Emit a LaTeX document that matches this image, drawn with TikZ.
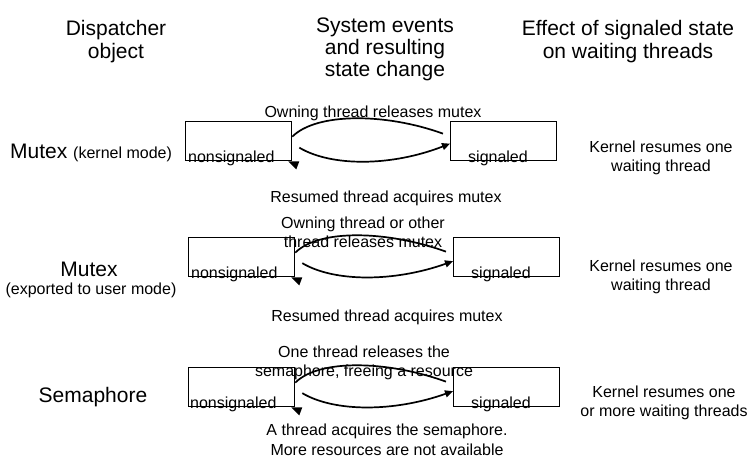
\documentclass[tikz,border=0pt]{standalone}
\usepackage{fontspec}
\setmainfont{Liberation Sans}
\usetikzlibrary{arrows.meta}
\tikzset{
    statebox/.style = {rectangle, draw=black, line width=1.3pt, minimum width=106pt, minimum height=39pt, inner sep=0pt, anchor=north west},
    statename/.style = {font=\fontsize{16}{19}\selectfont, inner sep=0pt, anchor=base west},
    hdr/.style = {align=center, font=\fontsize{21}{23}\selectfont, inner sep=0pt},
    obj/.style = {font=\fontsize{21}{23}\selectfont, inner sep=0pt, anchor=base},
    objnote/.style = {font=\fontsize{16}{19}\selectfont, inner sep=0pt, anchor=base},
    evt/.style = {align=center, font=\fontsize{16}{19.5}\selectfont, inner sep=0pt},
    effect/.style = {align=center, font=\fontsize{16}{19}\selectfont, inner sep=0pt},
    arc/.style = {line width=1.7pt},
    arcarrow/.style = {arc, -{Triangle[length=8pt,width=7pt]}}
}

\begin{document}
\begin{tikzpicture}[x=1pt,y=-1pt]
    \useasboundingbox (0,0) rectangle (749,467);
    % column heads
    \node [hdr] (hobj) at (116,42) {Dispatcher\\object};
    \node [hdr, font=\fontsize{21}{22}\selectfont] (hevt) at (385,49) {System events\\and resulting\\state change};
    \node [hdr] (heff) at (628,42) {Effect of signaled state\\on waiting threads};

    % mutex, kernel mode
    \node [obj, anchor=base west] (obj1) at (10,158) {Mutex {\fontsize{16}{19}\selectfont (kernel mode)}};
    \node [statebox] (ns1) at (185,121) {};
    \node [statebox] (s1) at (450,121) {};
    \node [statename] (ns1t) at ([xshift=3pt,yshift=-1pt]ns1.south west) {nonsignaled};
    \node [statename] (s1t) at ([xshift=18pt,yshift=-1pt]s1.south west) {signaled};
    \draw [arc] ([yshift=4.5pt]ns1.east) .. controls +(24,-24) and +(-58,-21) .. ([xshift=-7pt,yshift=7.5pt]s1.west);
    \draw [arcarrow] ([xshift=7pt,yshift=-6.5pt]ns1.east) .. controls +(32,19) and +(-59,23) .. ([yshift=-2.5pt]s1.west);
    \fill ([xshift=-4pt]ns1.south east) -- ++(11,0) -- ++(-3,8) -- cycle;
    \node [evt, anchor=base] (up1) at (373,117) {Owning thread releases mutex};
    \node [evt, anchor=base] (down1) at (386,202) {Resumed thread acquires mutex};
    \node [effect] (eff1) at (661,158) {Kernel resumes one\\waiting thread};

    % mutex, exported to user mode
    \node [obj] (obj2) at (89,276) {Mutex};
    \node [objnote] (obj2n) at (91,294) {(exported to user mode)};
    \node [statebox] (ns2) at (188,237) {};
    \node [statebox] (s2) at (453,237) {};
    \node [statename] (ns2t) at ([xshift=3pt,yshift=-1pt]ns2.south west) {nonsignaled};
    \node [statename] (s2t) at ([xshift=18pt,yshift=-1pt]s2.south west) {signaled};
    \draw [arc] ([yshift=4.5pt]ns2.east) .. controls +(24,-24) and +(-58,-21) .. ([xshift=-7pt,yshift=5.5pt]s2.west);
    \draw [arcarrow] ([xshift=7pt,yshift=-6pt]ns2.east) .. controls +(32,19) and +(-59,21) .. ([yshift=-4pt]s2.west);
    \fill ([xshift=-4pt]ns2.south east) -- ++(11,0) -- ++(-3,8) -- cycle;
    \node [evt] (up2) at (363,232.5) {Owning thread or other\\thread releases mutex};
    \node [evt, anchor=base] (down2) at (387,321) {Resumed thread acquires mutex};
    \node [effect] (eff2) at (661,276.5) {Kernel resumes one\\waiting thread};

    % semaphore
    \node [obj] (obj3) at (93,402) {Semaphore};
    \node [statebox] (ns3) at (188,367) {};
    \node [statebox] (s3) at (453,367) {};
    \node [statename] (ns3t) at ([xshift=2pt,yshift=-1pt]ns3.south west) {nonsignaled};
    \node [statename] (s3t) at ([xshift=18pt,yshift=-1pt]s3.south west) {signaled};
    \draw [arc] ([yshift=4.5pt]ns3.east) .. controls +(24,-24) and +(-58,-21) .. ([xshift=-7pt,yshift=5.5pt]s3.west);
    \draw [arcarrow] ([xshift=7pt,yshift=-6pt]ns3.east) .. controls +(32,19) and +(-59,21) .. ([yshift=-4pt]s3.west);
    \fill ([xshift=-4pt]ns3.south east) -- ++(11,0) -- ++(-3,8) -- cycle;
    \node [evt] (up3) at (364,363) {One thread releases the\\semaphore, freeing a resource};
    \node [evt] (down3) at (387,440) {A thread acquires the semaphore.\\More resources are not available};
    \node [effect] (eff3) at (664,403) {Kernel resumes one\\or more waiting threads};
\end{tikzpicture}
\end{document}
